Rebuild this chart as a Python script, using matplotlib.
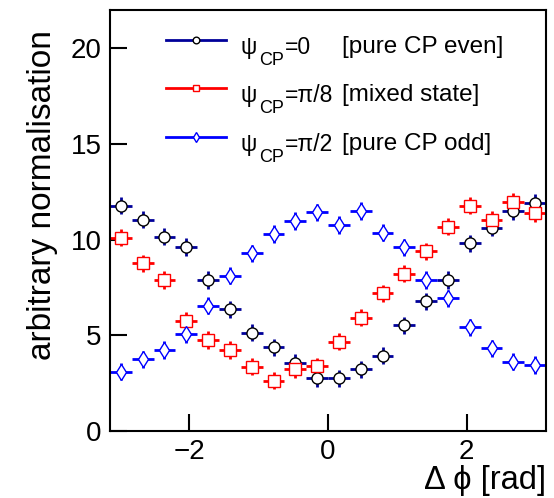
import numpy as np
import matplotlib
matplotlib.use('Agg')
import matplotlib.pyplot as plt
from matplotlib.lines import Line2D

plt.rcParams['font.family'] = ['Liberation Sans', 'DejaVu Sans']

# 20 bins in delta phi from -pi to pi
edges = np.linspace(-np.pi, np.pi, 21)
centers = 0.5 * (edges[:-1] + edges[1:])
half_width = 0.5 * (edges[1] - edges[0])

# psi_CP = 0 (pure CP even)
even = [11.77, 11.05, 10.15, 9.62, 7.89, 6.35, 5.13, 4.37, 3.57, 2.75,
        2.75, 3.22, 3.93, 5.52, 6.77, 7.89, 9.80, 10.63, 11.50, 11.94]
# psi_CP = pi/8 (mixed state)
mixed = [10.11, 8.76, 7.89, 5.76, 4.75, 4.23, 3.36, 2.63, 3.22, 3.39,
         4.66, 5.92, 7.19, 8.23, 9.40, 10.67, 11.77, 11.05, 11.98, 11.37]
# psi_CP = pi/2 (pure CP odd)
odd = [3.10, 3.74, 4.23, 5.07, 6.54, 8.11, 9.28, 10.29, 10.97, 11.42,
       10.76, 11.50, 10.36, 9.59, 7.89, 6.93, 5.41, 4.32, 3.62, 3.45]
err = 0.45

label_vals = ['=0', '=π/8', '=π/2']
notes = ['[pure CP even]', '[mixed state]', '[pure CP odd]']

series = [
    (even, '#000099', 'o', 'black', 8),
    (mixed, '#ff0000', 's', '#ff0000', 8),
    (odd, '#0000ff', 'd', '#0000ff', 8),
]

W, H = 554, 498
fig = plt.figure(figsize=(W / 100, H / 100), dpi=100)
ax = fig.add_axes([110 / W, 67 / H, 436 / W, 421 / H])

for vals, lcol, mk, mcol, ms in series:
    ax.errorbar(centers, vals, xerr=half_width, yerr=err, fmt='none',
                ecolor=lcol, elinewidth=2, capsize=0, zorder=2)
    ax.plot(centers, vals, linestyle='none', marker=mk, markersize=ms,
            markerfacecolor='white', markeredgecolor=mcol,
            markeredgewidth=1.0, zorder=3)

ax.set_xlim(-np.pi, np.pi)
ax.set_ylim(0, 22)
ax.set_xticks([-2, 0, 2])
ax.set_xticklabels(['\u22122', '0', '2'])
ax.set_yticks([0, 5, 10, 15, 20])
ax.tick_params(direction='in', length=12, width=1.5, labelsize=20, pad=6)
for s in ax.spines.values():
    s.set_linewidth(1.5)

ax.set_ylabel('arbitrary normalisation', fontsize=24, loc='top')
ax.yaxis.set_label_coords(-0.12, 0.952)
ax.set_xlabel('Δ ϕ [rad]', fontsize=23.5, loc='right', labelpad=0)

# legend, drawn row by row (line sample, ψ with CP subscript, value, note)
line_y = [40, 88.3, 136.7]
for (vals, lcol, mk, mcol, ms), val, note, ly in zip(series, label_vals, notes, line_y):
    yf = 1 - ly / H
    fig.add_artist(Line2D([166 / W, 226 / W], [yf, yf], color=lcol, lw=2,
                          transform=fig.transFigure))
    fig.add_artist(Line2D([196 / W], [yf], marker=mk, markersize=ms * 0.6,
                          markerfacecolor='white', markeredgecolor=mcol,
                          markeredgewidth=1.0, transform=fig.transFigure))
    base = 1 - (ly + 14) / H
    t1 = fig.text(240 / W, base, 'ψ', fontsize=16.5, va='baseline')
    t2 = ax.annotate('CP', xy=(1, 1 - (ly + 25) / H),
                     xycoords=(t1, 'figure fraction'), xytext=(2, 0),
                     textcoords='offset points', fontsize=13,
                     va='baseline', annotation_clip=False)
    ax.annotate(val, xy=(1, base), xycoords=(t2, 'figure fraction'),
                xytext=(0.5, 0), textcoords='offset points', fontsize=16.5,
                va='baseline', annotation_clip=False)
    fig.text(342 / W, 1 - (ly + 13) / H, note, fontsize=17.5, va='baseline')

fig.savefig('out.png', dpi=100)
